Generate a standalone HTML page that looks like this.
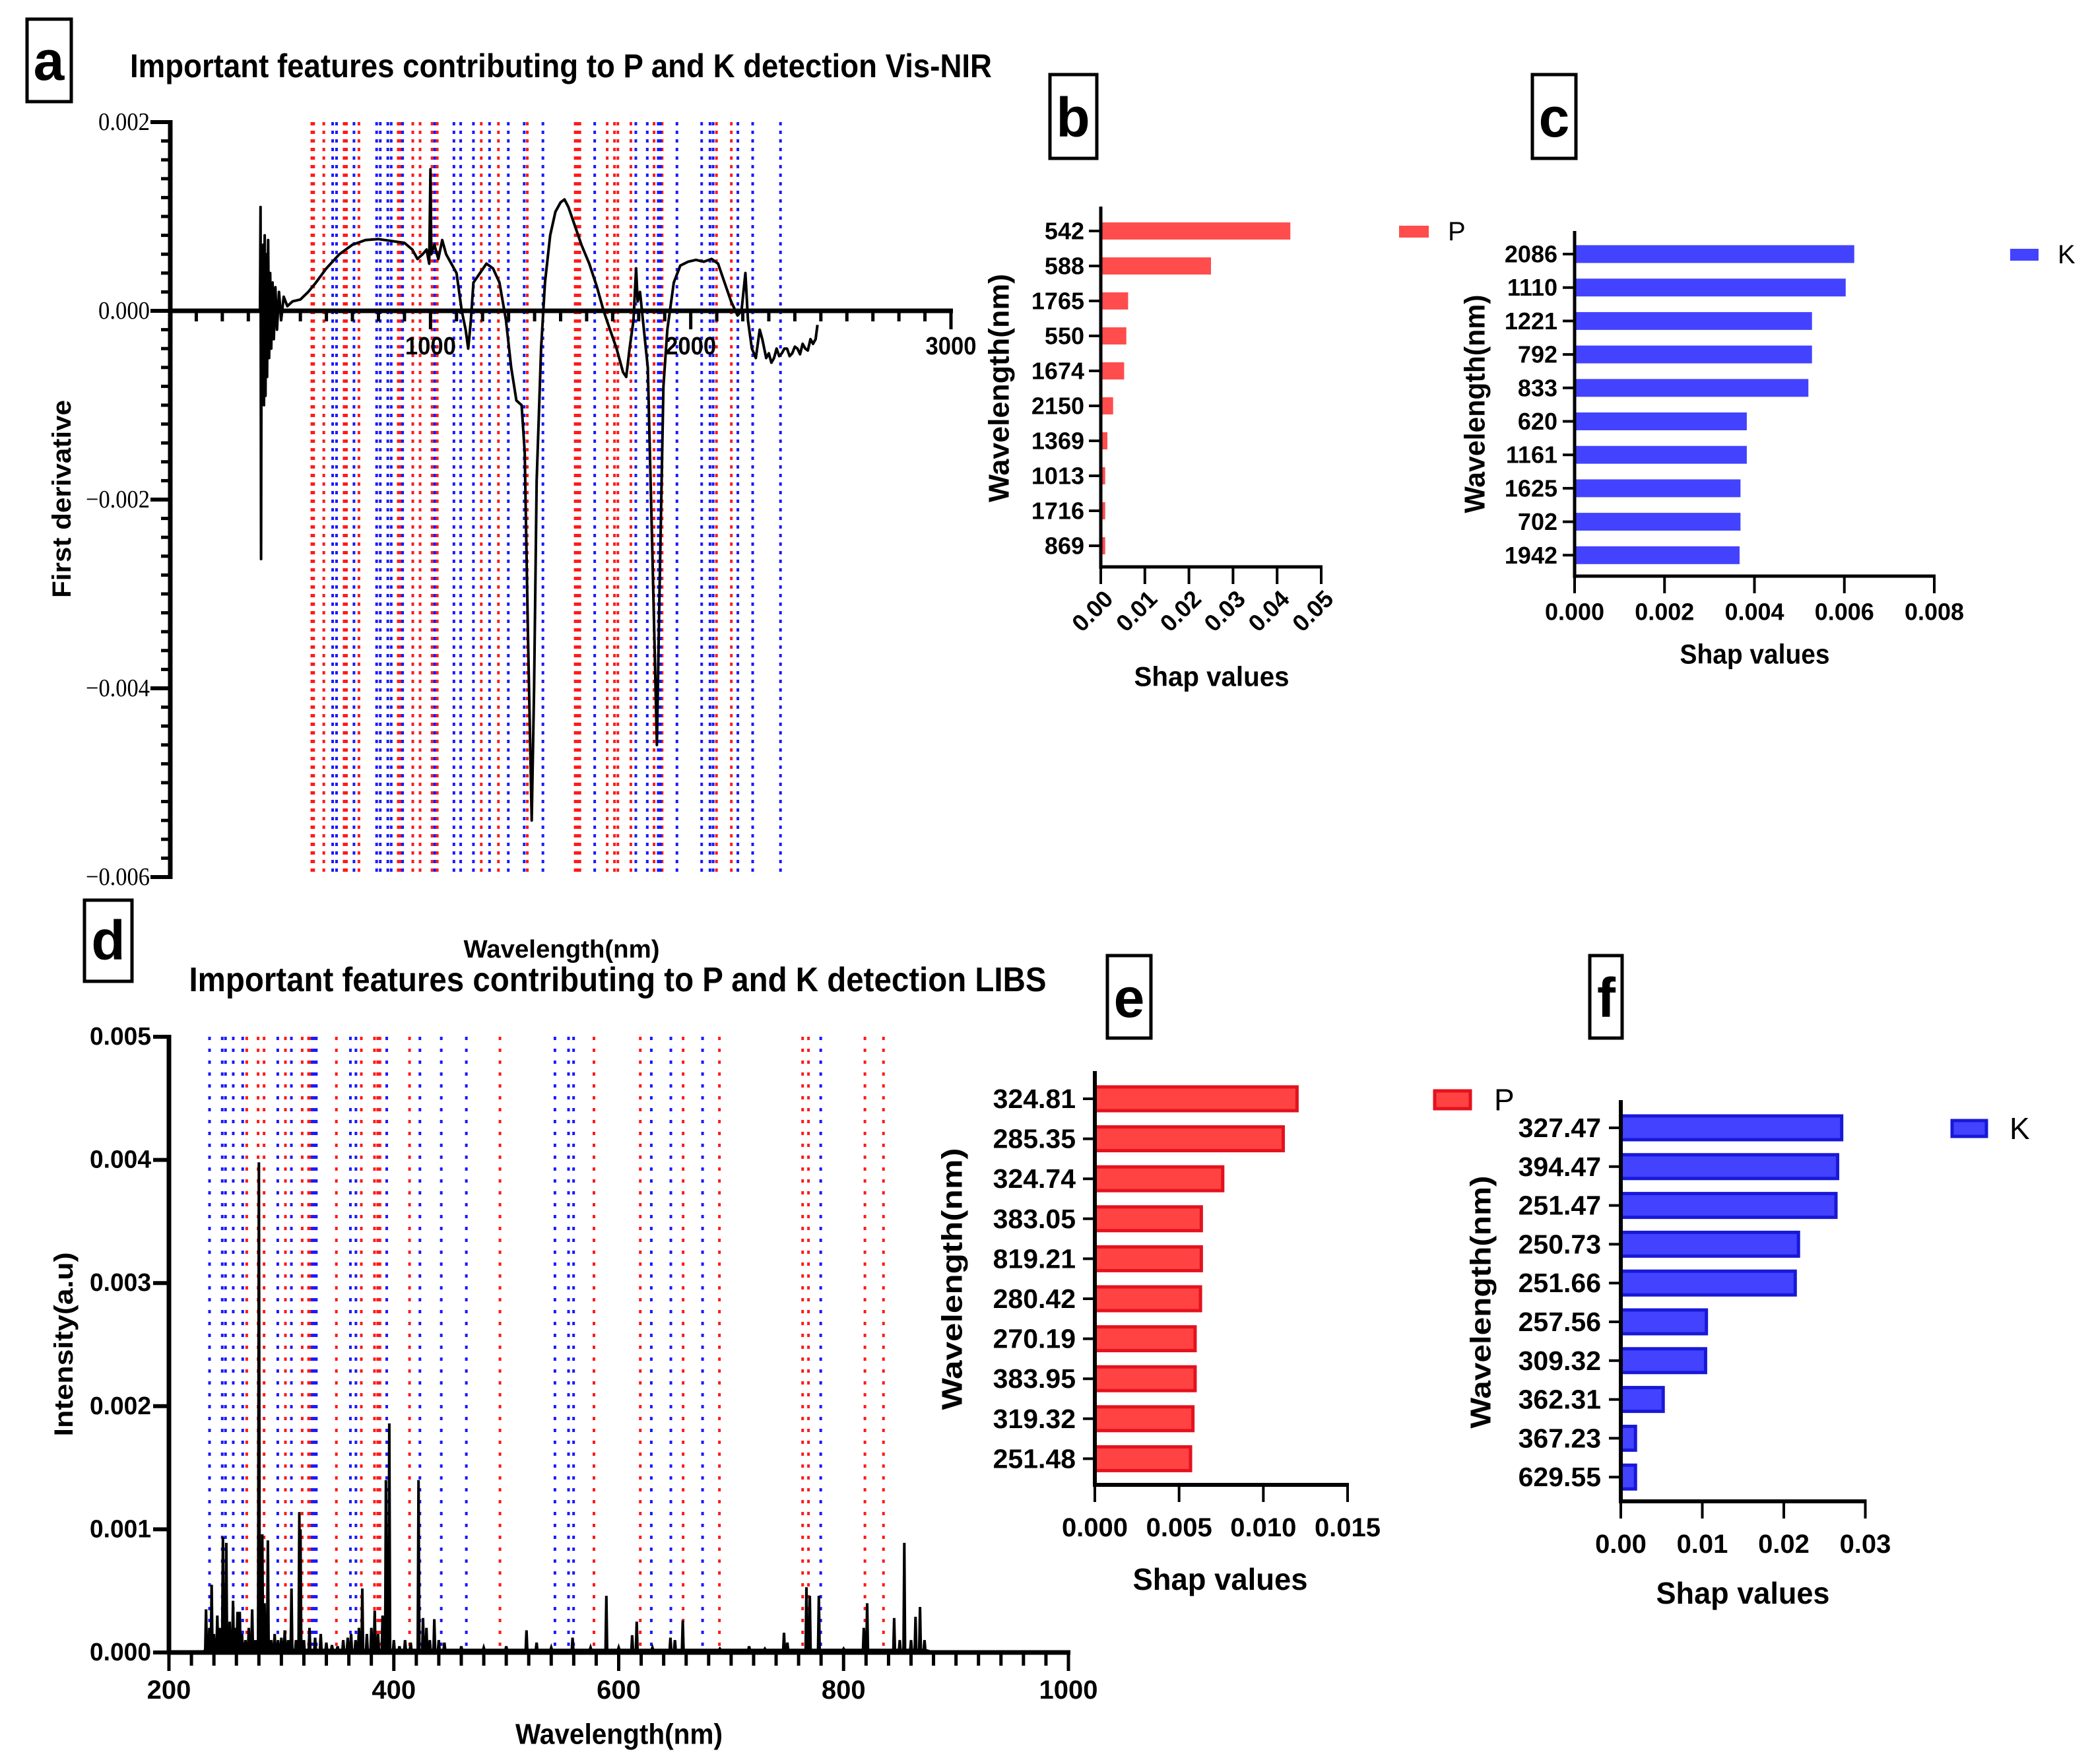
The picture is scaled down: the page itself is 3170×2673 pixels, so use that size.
<!DOCTYPE html>
<html><head><meta charset="utf-8"><style>
html,body{margin:0;padding:0;background:#fff;}
svg{display:block;font-family:"Liberation Sans",sans-serif;}
</style></head><body>
<svg id="fig" xmlns="http://www.w3.org/2000/svg" width="3170" height="2673" viewBox="0 0 3170 2673">
<rect x="0" y="0" width="3170" height="2673" fill="#fff"/>
<g><rect x="41" y="29" width="67" height="125" fill="none" stroke="#000" stroke-width="5"/><text x="74" y="92" font-size="84" font-weight="bold" text-anchor="middle" dominant-baseline="central">a</text></g>
<g><rect x="1591" y="113" width="71" height="127" fill="none" stroke="#000" stroke-width="5"/><text x="1626" y="178" font-size="84" font-weight="bold" text-anchor="middle" dominant-baseline="central">b</text></g>
<g><rect x="2322" y="113" width="66" height="127" fill="none" stroke="#000" stroke-width="5"/><text x="2355" y="178" font-size="84" font-weight="bold" text-anchor="middle" dominant-baseline="central">c</text></g>
<g><rect x="128" y="1364" width="72" height="123" fill="none" stroke="#000" stroke-width="5"/><text x="164" y="1425" font-size="84" font-weight="bold" text-anchor="middle" dominant-baseline="central">d</text></g>
<g><rect x="1678" y="1448" width="66" height="125" fill="none" stroke="#000" stroke-width="5"/><text x="1711" y="1512" font-size="84" font-weight="bold" text-anchor="middle" dominant-baseline="central">e</text></g>
<g><rect x="2409" y="1448" width="49" height="125" fill="none" stroke="#000" stroke-width="5"/><text x="2434" y="1512" font-size="84" font-weight="bold" text-anchor="middle" dominant-baseline="central">f</text></g>
<text x="850" y="100" font-size="50" font-weight="bold" text-anchor="middle" dominant-baseline="central" textLength="1306" lengthAdjust="spacingAndGlyphs">Important features contributing to P and K detection Vis-NIR</text>
<text x="936" y="1485" font-size="52" font-weight="bold" text-anchor="middle" dominant-baseline="central" textLength="1299" lengthAdjust="spacingAndGlyphs">Important features contributing to P and K detection LIBS</text>
<text x="851" y="1439" font-size="38" font-weight="bold" text-anchor="middle" dominant-baseline="central" textLength="297" lengthAdjust="spacingAndGlyphs">Wavelength(nm)</text>
<text transform="translate(94,756) rotate(-90)" font-size="40" font-weight="bold" text-anchor="middle" dominant-baseline="central" textLength="300" lengthAdjust="spacingAndGlyphs">First derivative</text>
<text x="938" y="2628" font-size="44" font-weight="bold" text-anchor="middle" dominant-baseline="central" textLength="314" lengthAdjust="spacingAndGlyphs">Wavelength(nm)</text>
<text transform="translate(97,2037) rotate(-90)" font-size="40" font-weight="bold" text-anchor="middle" dominant-baseline="central" textLength="279" lengthAdjust="spacingAndGlyphs">Intensity(a.u)</text>
<g id="layer"></g>
</svg>
<script>
// ---------- Panel a data ----------
const aWl = [340,345,347,349,351,354,357,360,363,366,369,372,376,380,384,388,393,398,404,410,418,426,436,450,470,500,530,560,600,650,700,750,800,850,900,930,950,970,985,995,1000,1003,1015,1030,1045,1060,1080,1100,1120,1135,1145,1155,1165,1190,1215,1240,1265,1290,1310,1330,1350,1362,1375,1389,1398,1408,1425,1440,1460,1480,1500,1515,1530,1555,1580,1610,1640,1665,1690,1715,1740,1752,1765,1780,1790,1796,1805,1820,1835,1852,1870,1880,1895,1910,1935,1960,1990,2020,2050,2080,2105,2130,2155,2180,2195,2210,2220,2235,2250,2265,2275,2290,2300,2310,2320,2330,2340,2350,2360,2370,2380,2390,2400,2410,2420,2430,2440,2450,2460,2470,2480,2487];
const aVal = [0,0,0.0011,-0.00263,0.0005,-0.0008,0.0007,-0.001,0.0008,-0.0009,0.0006,-0.0007,0.00075,-0.0005,0.0004,-0.0004,0.0003,-0.0003,0.00025,-0.0002,0.0002,-0.0001,0.00015,0.00005,0.0001,0.00012,0.0002,0.0003,0.00045,0.0006,0.0007,0.00075,0.00076,0.00074,0.00072,0.00065,0.00055,0.0006,0.00065,0.0005,0.0015,0.0006,0.0007,0.00055,0.00075,0.0006,0.0005,0.0004,0.0,-0.0002,-0.0004,-0.0001,0.0003,0.0004,0.0005,0.00045,0.0003,-0.0001,-0.0006,-0.00095,-0.001,-0.0015,-0.0035,-0.0054,-0.004,-0.0018,-0.0004,0.0003,0.0008,0.00105,0.00115,0.00118,0.0011,0.0009,0.0007,0.0005,0.00025,0,-0.0002,-0.0004,-0.00065,-0.0007,-0.0004,-0.0001,0.00045,0.0001,0.0002,-0.0002,-0.0006,-0.0025,-0.0046,-0.003,-0.0008,-0.0002,0.0003,0.00048,0.00052,0.00054,0.00052,0.00055,0.0005,0.0003,0.0001,-0.00005,0.0,0.0004,-0.0001,-0.0004,-0.0005,-0.0002,-0.0003,-0.0005,-0.00045,-0.00055,-0.0005,-0.0004,-0.00048,-0.00045,-0.0004,-0.0004,-0.00048,-0.00045,-0.00038,-0.0004,-0.00046,-0.00035,-0.0004,-0.00042,-0.0003,-0.00035,-0.0003,-0.00015,0.0];
const aLinesP = [544,551,590,668,677,725,876,886,932,960,1006,1026,1195,1261,1372,1556,1565,1574,1679,1707,1720,1770,1859,1890,2099,2156];
const aLinesK = [624,639,706,793,807,836,849,893,1016,1090,1116,1165,1227,1299,1360,1432,1631,1789,1833,1875,1884,1947,2042,2074,2086,2181,2238,2345];
const aYTicks = [0.002,0,-0.002,-0.004,-0.006];
const aYTickLabels = ["0.002","0.000","\u22120.002","\u22120.004","\u22120.006"];
const aXTicks = [1000,2000,3000];

// ---------- Panel d data ----------
const dPeakWl = [233,236,238,240,243,245,248,251,254,257,259,261,263,265,268,271,274,277,280,283,285,288,291,294,297,300,303,306,309,313,316,317,320,325,330,335,340,345,350,355,359,362,366,369,372,376,380,383,386,390,393,396,400,405,410,415,422,426,429,432,436,440,445,460,480,500,518,527,540,559,575,589,600,612,616,630,646,650,657,690,716,730,747,750,767,770,778,800,818,821,845,850,854,860,864,868,872];
const dPeakVal = [0.00035,0.0002,0.00055,0.00015,0.0003,0.0002,0.00094,0.00089,0.00025,0.00042,0.0002,0.00033,0.00033,0.00015,0.0001,0.0002,0.00035,0.0001,0.00398,0.00096,0.0004,0.00091,0.0001,0.00015,0.0001,0.00012,0.00018,0.0001,0.00052,0.0001,0.00114,0.001,0.0001,0.0002,0.00012,0.00015,0.00008,0.00006,0.00005,0.0001,0.00012,0.00015,0.0001,0.0002,0.00052,0.00015,0.0002,0.00034,0.00015,0.0003,0.0014,0.00186,0.0001,0.00005,0.0001,0.00008,0.0014,0.00028,0.0002,0.0001,0.00027,0.0001,0.00008,0.00005,0.00004,0.00005,0.00018,0.00008,0.00004,0.00012,0.00004,0.00046,0.00004,0.00014,0.00025,0.00004,0.00012,0.0001,0.00026,0.00003,0.00005,0.00003,0.00016,0.00008,0.00053,0.00046,0.00046,0.00003,0.0002,0.0004,0.00028,0.0001,0.00089,0.0001,0.00029,0.00037,0.0001];
const dLinesP = [269.2,279.3,284.6,303.6,318.5,324.2,325.8,348.9,371.1,382.8,385.7,387.7,414,494.4,578,619.2,657.3,689.6,763.6,768.8,819,835.5];
const dLinesK = [236.1,247.4,250.3,257.2,265.6,296.8,308.9,327.5,329,331.1,361.4,366.3,393.7,423.2,442.2,464.5,543.3,555.4,559.9,629,646.4,674.6,779.7];
const dYTicks = [0,0.001,0.002,0.003,0.004,0.005];
const dYTickLabels = ["0.000","0.001","0.002","0.003","0.004","0.005"];
const dXTicks = [200,400,600,800,1000];

// ---------- Panel b data ----------
const bCats = ["542","588","1765","550","1674","2150","1369","1013","1716","869"];
const bVals = [0.043,0.025,0.0062,0.0058,0.0053,0.0028,0.0015,0.001,0.001,0.001];
const bTicks = [0,0.01,0.02,0.03,0.04,0.05];
const bTickLabels = ["0.00","0.01","0.02","0.03","0.04","0.05"];
// ---------- Panel c data ----------
const cCats = ["2086","1110","1221","792","833","620","1161","1625","702","1942"];
const cVals = [0.00622,0.00603,0.00528,0.00528,0.0052,0.00383,0.00383,0.00369,0.00369,0.00367];
const cTicks = [0,0.002,0.004,0.006,0.008];
const cTickLabels = ["0.000","0.002","0.004","0.006","0.008"];
// ---------- Panel e data ----------
const eCats = ["324.81","285.35","324.74","383.05","819.21","280.42","270.19","383.95","319.32","251.48"];
const eVals = [0.0120,0.01118,0.00759,0.00632,0.00632,0.00627,0.00595,0.00595,0.00582,0.00568];
const eTicks = [0,0.005,0.010,0.015];
const eTickLabels = ["0.000","0.005","0.010","0.015"];
// ---------- Panel f data ----------
const fCats = ["327.47","394.47","251.47","250.73","251.66","257.56","309.32","362.31","367.23","629.55"];
const fVals = [0.0271,0.0266,0.0264,0.0218,0.0214,0.0105,0.0104,0.0052,0.0018,0.0018];
const fTicks = [0,0.01,0.02,0.03];
const fTickLabels = ["0.00","0.01","0.02","0.03"];

const NS = "http://www.w3.org/2000/svg";
const layer = document.getElementById('layer');
function mk(tag, attrs, parent){
  const e = document.createElementNS(NS, tag);
  for (const k in attrs) e.setAttribute(k, attrs[k]);
  (parent||layer).appendChild(e);
  return e;
}

// ===== Panel a =====
const xA = wl => 258 + wl*(1183/3000);
const yA = v => 471 - v*143000;
const gA = mk('g', {});


aLinesP.forEach(w => {
  const l = mk('line', {x1:xA(w), x2:xA(w), y1:yA(0.002), y2:yA(-0.006), stroke:'#ff1a1a', 'stroke-width':4, 'stroke-dasharray':'5 8'}, gA);
  
  
});
aLinesK.forEach(w => {
  const l = mk('line', {x1:xA(w), x2:xA(w), y1:yA(0.002), y2:yA(-0.006), stroke:'#1a1aff', 'stroke-width':4, 'stroke-dasharray':'5 8'}, gA);
  
  
});
// axes
const aYAxis = mk('line', {x1:258, x2:258, y1:yA(0.002)-3, y2:yA(-0.006)+3, stroke:'#000', 'stroke-width':7}, gA);


for (let i=0;i<=40;i++){
  const v = 0.002 - i*0.0002;
  const major = i%10===0;
  mk('line', {x1:major?228:244, x2:258, y1:yA(v), y2:yA(v), stroke:'#000', 'stroke-width':major?6:5}, gA);
}
aYTicks.forEach((v,i) => {
  const t = mk('text', {x:227, y:yA(v), 'font-family':'"Liberation Serif",serif', 'font-size':38, 'text-anchor':'end', 'dominant-baseline':'central', textLength: aYTickLabels[i].length===5?78:97, lengthAdjust:'spacingAndGlyphs'}, gA);
  t.textContent = aYTickLabels[i];
  
  
});
const aXAxis = mk('line', {x1:255, x2:xA(3000)+3, y1:yA(0), y2:yA(0), stroke:'#000', 'stroke-width':7}, gA);


for (let w=0; w<=3000; w+=100){
  const major = w%1000===0;
  mk('line', {x1:xA(w), x2:xA(w), y1:yA(0), y2:yA(0)+(major?28:16), stroke:'#000', 'stroke-width':5}, gA);
}
aXTicks.forEach(w => {
  const t = mk('text', {x:xA(w), y:525, 'font-size':38, 'font-weight':'bold', 'text-anchor':'middle', 'dominant-baseline':'central', textLength:77, lengthAdjust:'spacingAndGlyphs'}, gA);
  t.textContent = String(w);
  
  
});
const aPts = aWl.map((w,i) => xA(w).toFixed(1)+','+yA(aVal[i]).toFixed(1)).join(' ');
const aLine = mk('polyline', {points:aPts, fill:'none', stroke:'#000', 'stroke-width':4, 'stroke-linejoin':'round'}, gA);



// ===== Panel d =====
const xD = wl => 256 + (wl-200)*(1363/800);
const yD = v => 2504 - v*(933/0.005);
const gD = mk('g', {});


dLinesP.forEach(w => {
  const l = mk('line', {x1:xD(w), x2:xD(w), y1:yD(0.005), y2:yD(0), stroke:'#ff1a1a', 'stroke-width':4, 'stroke-dasharray':'5 13'}, gD);
  
  
});
dLinesK.forEach(w => {
  const l = mk('line', {x1:xD(w), x2:xD(w), y1:yD(0.005), y2:yD(0), stroke:'#1a1aff', 'stroke-width':4, 'stroke-dasharray':'5 13'}, gD);
  
  
});
let dPts = [xD(230).toFixed(1)+','+yD(0).toFixed(1)];
dPeakWl.forEach((w,i) => {
  dPts.push(xD(w-0.7).toFixed(1)+','+yD(0.00002).toFixed(1));
  dPts.push(xD(w).toFixed(1)+','+yD(dPeakVal[i]).toFixed(1));
  dPts.push(xD(w+0.7).toFixed(1)+','+yD(0.00002).toFixed(1));
});
dPts.push(xD(880).toFixed(1)+','+yD(0).toFixed(1));
const dLine = mk('polyline', {points:dPts.join(' '), fill:'none', stroke:'#000', 'stroke-width':4, 'stroke-linejoin':'miter'}, gD);


const dYAxis = mk('line', {x1:256, x2:256, y1:yD(0.005)-3, y2:yD(0)+3, stroke:'#000', 'stroke-width':7}, gD);


const dXAxis = mk('line', {x1:253, x2:xD(1000)+3, y1:yD(0), y2:yD(0), stroke:'#000', 'stroke-width':7}, gD);


dYTicks.forEach((v,i) => {
  mk('line', {x1:232, x2:256, y1:yD(v), y2:yD(v), stroke:'#000', 'stroke-width':6}, gD);
  const t = mk('text', {x:229, y:yD(v), 'font-size':38, 'font-weight':'bold', 'text-anchor':'end', 'dominant-baseline':'central', textLength:93, lengthAdjust:'spacingAndGlyphs'}, gD);
  t.textContent = dYTickLabels[i];
  
  
});
for (let w=200; w<=1000; w+=20){
  mk('line', {x1:xD(w), x2:xD(w), y1:yD(0), y2:yD(0)+(w%200===0?28:20), stroke:'#000', 'stroke-width':5}, gD);
}
dXTicks.forEach(w => {
  const t = mk('text', {x:xD(w), y:2561, 'font-size':40, 'font-weight':'bold', 'text-anchor':'middle', 'dominant-baseline':'central'}, gD);
  t.textContent = String(w);
  
  
});

// ===== Bar panels =====
function barPanel(cfg){
  const g = mk('g', {});
  
  
  const xs = v => cfg.x0 + v*cfg.k;
  cfg.cats.forEach((c,i) => {
    const yc = cfg.y0 + i*cfg.dy;
    const b = mk('rect', {x:xs(0), y:yc-cfg.bh/2, width:Math.max(xs(cfg.vals[i])-xs(0),1), height:cfg.bh, fill:cfg.fill, stroke:cfg.stroke, 'stroke-width':cfg.sw}, g);
    
    
    mk('line', {x1:cfg.x0-18, x2:cfg.x0, y1:yc, y2:yc, stroke:'#000', 'stroke-width':4}, g);
    const t = mk('text', {x:cfg.labX, y:yc, 'font-size':cfg.fs, 'font-weight':'bold', 'text-anchor':'end', 'dominant-baseline':'central'}, g);
    t.textContent = c;
    
    
  });
  const ya = mk('line', {x1:cfg.x0, x2:cfg.x0, y1:cfg.yTop, y2:cfg.yBot+3, stroke:'#000', 'stroke-width':cfg.aw}, g);
  
  
  const xa = mk('line', {x1:cfg.x0-2, x2:xs(cfg.ticks[cfg.ticks.length-1])+2, y1:cfg.yBot, y2:cfg.yBot, stroke:'#000', 'stroke-width':cfg.aw}, g);
  
  
  cfg.ticks.forEach((v,i) => {
    mk('line', {x1:xs(v), x2:xs(v), y1:cfg.yBot, y2:cfg.yBot+26, stroke:'#000', 'stroke-width':4}, g);
    let t;
    if (cfg.rot){
      t = mk('text', {transform:'translate('+(xs(v)+12)+','+(cfg.yBot+42)+') rotate(-45)', 'font-size':cfg.tfs, 'font-weight':'bold', 'text-anchor':'end', 'dominant-baseline':'central'}, g);
    } else {
      t = mk('text', {x:xs(v), y:cfg.tickY, 'font-size':cfg.tfs, 'font-weight':'bold', 'text-anchor':'middle', 'dominant-baseline':'central'}, g);
    }
    t.textContent = cfg.tickLabels[i];
    
    
  });
  const xt = mk('text', {x:cfg.xtX, y:cfg.xtY, 'font-size':cfg.tfs+6, 'font-weight':'bold', 'text-anchor':'middle', 'dominant-baseline':'central', textLength:cfg.xtL, lengthAdjust:'spacingAndGlyphs'}, g);
  xt.textContent = 'Shap values';
  
  
  const yt = mk('text', {transform:'translate('+cfg.ytX+','+cfg.ytY+') rotate(-90)', 'font-size':44, 'font-weight':'bold', 'text-anchor':'middle', 'dominant-baseline':'central', textLength:cfg.ytL, lengthAdjust:'spacingAndGlyphs'}, g);
  yt.textContent = 'Wavelength(nm)';
  
  
  const ls = mk('rect', {x:cfg.legX, y:cfg.legY, width:cfg.legW, height:cfg.legH, fill:cfg.fill, stroke:cfg.stroke, 'stroke-width':cfg.sw}, g);
  
  
  const lt = mk('text', {x:cfg.legTX, y:cfg.legY+cfg.legH/2, 'font-size':cfg.legFs, 'text-anchor':'start', 'dominant-baseline':'central'}, g);
  lt.textContent = cfg.legText;
  
  
}
barPanel({name:'panel-b-chart', cats:bCats, vals:bVals, ticks:bTicks, tickLabels:bTickLabels, x0:1668, k:334/0.05, y0:350, dy:53, bh:26, fill:'#ff4d4d', stroke:'none', sw:0, labX:1643, fs:36, yTop:313, yBot:859, aw:5, rot:true, tfs:36, xtX:1836, xtY:1025, xtL:235, ytX:1514, ytY:588, ytL:346, legX:2120, legY:342, legW:45, legH:18, legTX:2194, legFs:40, legText:'P'});
barPanel({name:'panel-c-chart', cats:cCats, vals:cVals, ticks:cTicks, tickLabels:cTickLabels, x0:2386, k:545/0.008, y0:385, dy:50.7, bh:27, fill:'#4343ff', stroke:'none', sw:0, labX:2360, fs:36, yTop:350, yBot:873, aw:5, rot:false, tfs:36, tickY:927, xtX:2659, xtY:991, xtL:227, ytX:2235, ytY:612, ytL:331, legX:3046, legY:377, legW:43, legH:18, legTX:3118, legFs:40, legText:'K'});
barPanel({name:'panel-e-chart', cats:eCats, vals:eVals, ticks:eTicks, tickLabels:eTickLabels, x0:1659, k:383/0.015, y0:1665, dy:60.6, bh:36, fill:'#ff4242', stroke:'#e3121e', sw:5, labX:1630, fs:41, yTop:1623, yBot:2250, aw:6, rot:false, tfs:40, tickY:2315, xtX:1849, xtY:2393, xtL:265, ytX:1443, ytY:1938, ytL:397, legX:2174, legY:1653, legW:54, legH:27, legTX:2264, legFs:46, legText:'P'});
barPanel({name:'panel-f-chart', cats:fCats, vals:fVals, ticks:fTicks, tickLabels:fTickLabels, x0:2456, k:370.5/0.03, y0:1709, dy:58.8, bh:36, fill:'#4242ff', stroke:'#1818d8', sw:5, labX:2426, fs:41, yTop:1667, yBot:2275, aw:6, rot:false, tfs:40, tickY:2340, xtX:2641, xtY:2414, xtL:263, ytX:2244, ytY:1973, ytL:383, legX:2958, legY:1698, legW:52, legH:24, legTX:3045, legFs:46, legText:'K'});
</script>
</body></html>
